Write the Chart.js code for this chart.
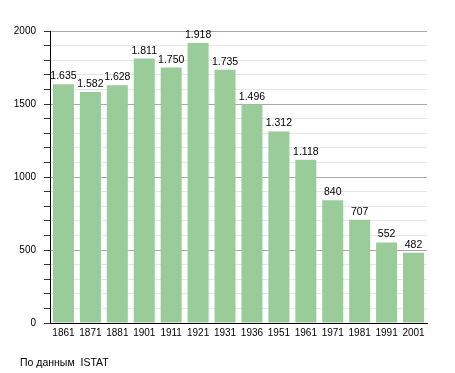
<!DOCTYPE html>
<html>
<head>
<meta charset="utf-8">
<script src="https://cdn.jsdelivr.net/npm/chart.js@4"></script>
<style>
  body { margin: 0; background: #fff; }
  #wrap { position: relative; width: 455px; height: 373px; }
  #note { position: absolute; left: 20px; top: 356px; font: 10.5px "Liberation Sans", Arial, sans-serif; color: #000; white-space: pre; }
</style>
</head>
<body>
<div id="wrap">
  <canvas id="chart" width="455" height="373"></canvas>
  <div id="note">По данным  ISTAT</div>
</div>
<script>
// Census years and population
const years = ['1861', '1871', '1881', '1901', '1911', '1921', '1931', '1936', '1951', '1961', '1971', '1981', '1991', '2001'];
const population = [1635, 1582, 1628, 1811, 1750, 1918, 1735, 1496, 1312, 1118, 840, 707, 552, 482];

// Format numbers with a dot as thousands separator
function fmt(v) {
  if (v < 1000) return String(v);
  return Math.floor(v / 1000) + '.' + String(v % 1000).padStart(3, '0');
}

// Draw value labels above the bars
const valueLabels = {
  id: 'valueLabels',
  afterDatasetsDraw(chart) {
    const ctx = chart.ctx;
    const meta = chart.getDatasetMeta(0);
    ctx.save();
    ctx.font = '10.5px "Liberation Sans", Arial, sans-serif';
    ctx.fillStyle = '#000';
    ctx.textAlign = 'center';
    ctx.textBaseline = 'alphabetic';
    meta.data.forEach((bar, i) => {
      ctx.fillText(fmt(population[i]), bar.x, bar.y - 5);
    });
    ctx.restore();
  }
};

const ctx = document.getElementById('chart').getContext('2d');
new Chart(ctx, {
  type: 'bar',
  data: {
    labels: years,
    datasets: [{
      data: population,
      backgroundColor: '#99cc99',
      borderWidth: 0,
      categoryPercentage: 1,
      barPercentage: 0.78
    }]
  },
  options: {
    responsive: false,
    animation: false,
    devicePixelRatio: 1,
    layout: { padding: { top: 31, right: 28, left: 0, bottom: 0 } },
    plugins: {
      legend: { display: false },
      tooltip: { enabled: false }
    },
    scales: {
      x: {
        grid: { display: false, drawTicks: false },
        border: { display: true, color: '#000', width: 1 },
        ticks: {
          color: '#000',
          font: { family: '"Liberation Sans", Arial, sans-serif', size: 10 },
          padding: 4,
          maxRotation: 0,
          autoSkip: false
        },
        afterFit(scale) { scale.height = 50; }
      },
      y: {
        min: 0,
        max: 2000,
        grid: {
          color: c => (c.tick && c.tick.value % 500 === 0) ? '#a8a8a8' : '#e6e6e6',
          tickColor: '#333',
          tickLength: 6
        },
        border: { display: true, color: '#000', width: 1 },
        ticks: {
          stepSize: 100,
          autoSkip: false,
          color: '#000',
          padding: 8,
          font: { family: '"Liberation Sans", Arial, sans-serif', size: 10 },
          callback: v => (v % 500 === 0 ? v : '')
        },
        afterFit(scale) { scale.width = 50; }
      }
    }
  },
  plugins: [valueLabels]
});
</script>
</body>
</html>
